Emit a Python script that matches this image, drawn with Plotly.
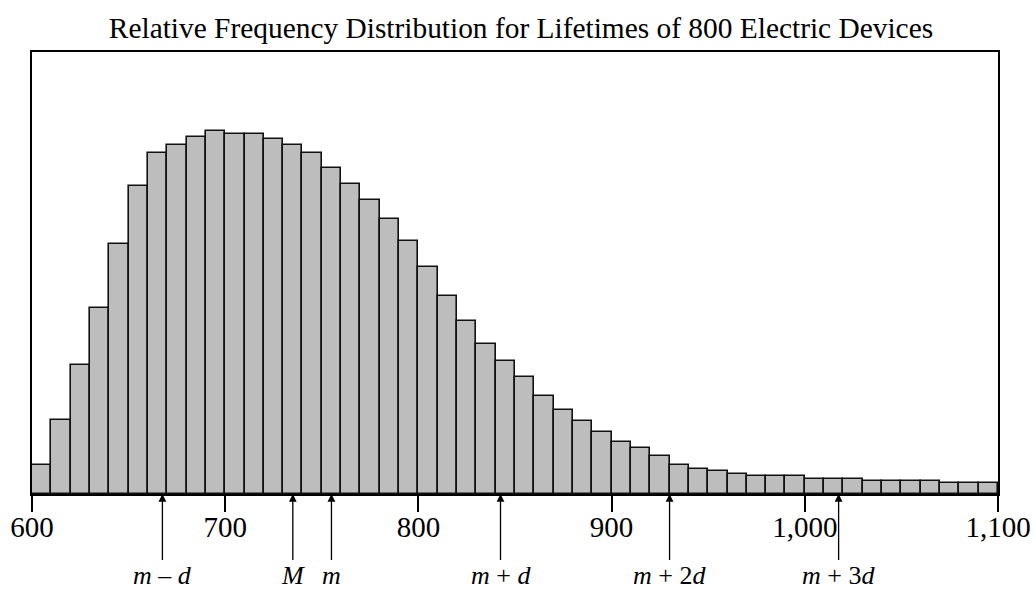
import plotly.graph_objects as go

# Bin edges: 600 to 1100 in steps of 10 (50 bins)
bin_start = 600
bin_width = 10
bin_lefts = [bin_start + bin_width * i for i in range(50)]

# Relative frequencies (%)
rel_freq = [
    0.40, 1.01, 1.76, 2.54, 3.40, 4.19, 4.64, 4.76, 4.86, 4.95,
    4.91, 4.91, 4.83, 4.76, 4.64, 4.44, 4.22, 4.00, 3.75, 3.44,
    3.09, 2.70, 2.35, 2.04, 1.81, 1.60, 1.34, 1.15, 1.00, 0.84,
    0.71, 0.62, 0.52, 0.39, 0.34, 0.31, 0.27, 0.24, 0.24, 0.24,
    0.21, 0.21, 0.21, 0.18, 0.18, 0.18, 0.18, 0.15, 0.15, 0.15,
]

tick_vals = [600, 700, 800, 900, 1000, 1100]
tick_text = ["600", "700", "800", "900", "1,000", "1,100"]

marker_pos = [667.5, 735, 755, 842.5, 930, 1017.5]
marker_labels = [
    "<i>m</i> \u2013 <i>d</i>",
    "<i>M</i>",
    "<i>m</i>",
    "<i>m</i> + <i>d</i>",
    "<i>m</i> + 2<i>d</i>",
    "<i>m</i> + 3<i>d</i>",
]

title_text = "Relative Frequency Distribution for Lifetimes of 800 Electric Devices"

FONT = "Liberation Serif, Times New Roman, serif"

centers = [b + bin_width / 2 for b in bin_lefts]

W, H = 1034, 589

fig = go.Figure()
fig.add_trace(go.Bar(
    x=centers,
    y=rel_freq,
    width=bin_width,
    marker=dict(color="#bdbdbd", line=dict(color="#111111", width=1.6)),
    hoverinfo="skip",
))

for pos, lab in zip(marker_pos, marker_labels):
    fig.add_annotation(
        x=pos, y=0, xref="x", yref="y",
        text=lab,
        showarrow=True,
        arrowhead=2, arrowsize=1.2, arrowwidth=1.3, arrowcolor="black",
        ax=0, ay=81,
        font=dict(family=FONT, size=26, color="black"),
        borderpad=0,
    )

fig.update_layout(
    width=W, height=H,
    margin=dict(l=32, r=36, t=52, b=95, autoexpand=False),
    paper_bgcolor="white",
    plot_bgcolor="white",
    showlegend=False,
    bargap=0,
    title=dict(
        text=title_text,
        x=521 / W, xref="container", xanchor="center",
        y=1 - 38 / H, yref="container", yanchor="bottom",
        font=dict(family=FONT, size=29.4, color="black"),
        pad=dict(t=0, b=0),
    ),
    xaxis=dict(
        range=[600, 1100],
        tickvals=tick_vals, ticktext=tick_text,
        ticks="outside", ticklen=16, tickwidth=1.5, tickcolor="black",
        ticklabelstandoff=-10,
        automargin=False,
        showline=True, linecolor="black", linewidth=2, mirror=True,
        showgrid=False, zeroline=False,
        tickfont=dict(family=FONT, size=29, color="black"),
    ),
    yaxis=dict(
        range=[0, 6.02],
        automargin=False,
        showticklabels=False, ticks="",
        showline=True, linecolor="black", linewidth=2, mirror=True,
        showgrid=False, zeroline=False,
    ),
)

fig.write_html(
    "out.html",
    config={"displayModeBar": False},
    post_script="document.body.style.margin='0';document.body.style.overflow='hidden';",
)
